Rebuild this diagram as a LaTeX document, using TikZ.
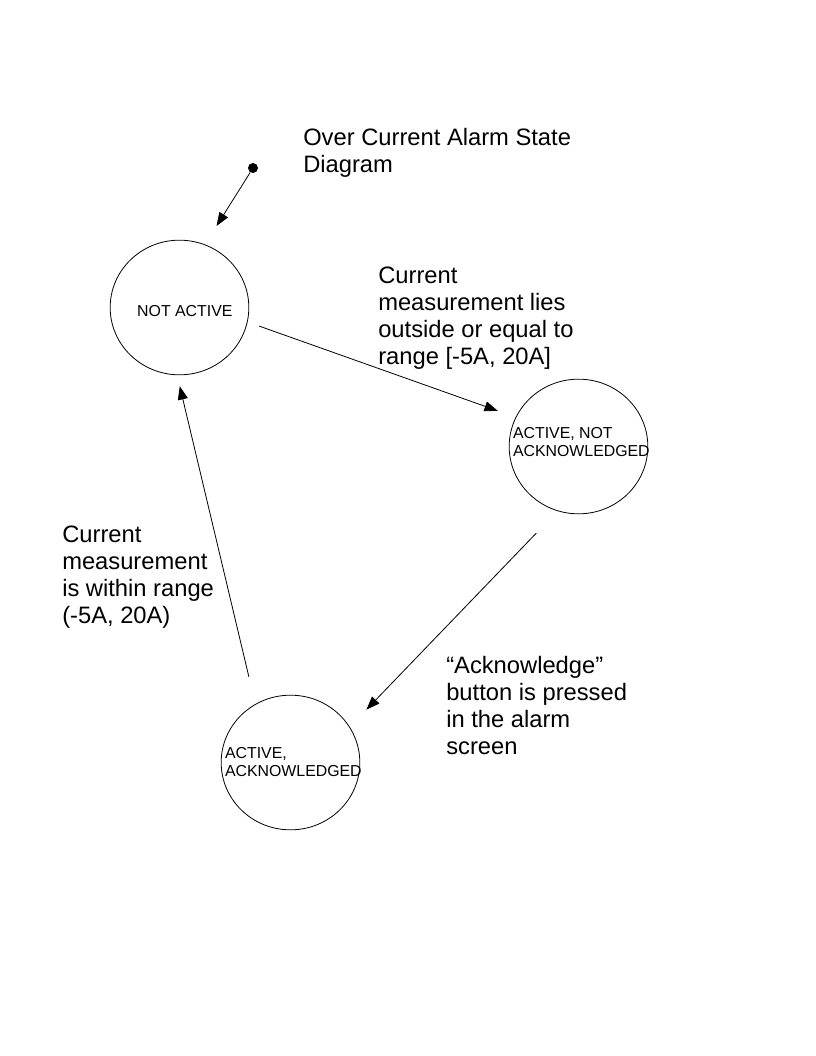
\documentclass[tikz,border=0pt]{standalone}
\usepackage{fontspec}
\setmainfont{Liberation Sans}
\usetikzlibrary{arrows.meta,shapes.geometric}

\begin{document}
\begin{tikzpicture}[x=0.75pt,y=-0.75pt,
		state/.style={draw, ellipse, line width=0.6pt, minimum width=104pt, minimum height=101pt, inner sep=0pt},
		statetext/.style={align=left, inner sep=0pt, font=\fontsize{11.9}{13.5}\selectfont},
		trans/.style={line width=0.6pt, -{Triangle[length=10pt,width=7.5pt]}},
		txt/.style={align=left, anchor=west, inner sep=0pt, font=\fontsize{17.8}{20.25}\selectfont}]
			\useasboundingbox (0,0) rectangle (816,1056);
			\node[circle, fill, minimum size=7.5pt, inner sep=0pt] (init) at (253,168) {};
			\node[state, label={[statetext, xshift=4pt, yshift=-2.5pt]center:NOT ACTIVE}] (na) at (179.5,307.5) {};
			\node[state, label={[statetext, anchor=west, xshift=3pt, yshift=3pt]west:ACTIVE, NOT\\ACKNOWLEDGED}] (ana) at (578.5,446.5) {};
			\node[state, label={[statetext, anchor=west, xshift=3pt, yshift=0pt]west:ACTIVE,\\ACKNOWLEDGED}] (aa) at (290.5,762.5) {};
			
			\draw[trans, shorten >=16.4pt] (init) -- (na.68.5);
			\draw[trans, shorten <=9.2pt, shorten >=14.2pt] (na.-12) -- (ana.155);
			\draw[trans, shorten <=23pt, shorten >=18pt] (ana.252.6) -- (aa.31.7);
			\draw[trans, shorten <=21pt, shorten >=8.5pt] (aa.121) -- (na.268.2);
			
			\node[txt] (title) at (303,153) {Over Current Alarm State\\Diagram};
			\node[txt] (outside) at (378,318.5) {Current\\measurement lies\\outside or equal to\\range [-5A, 20A]};
			\node[txt] (within) at (62,577.5) {Current\\measurement\\is within range\\(-5A, 20A)};
			\node[txt] (ack) at (446,706) {“Acknowledge”\\button is pressed\\in the alarm\\screen};
		\end{tikzpicture}
\end{document}
